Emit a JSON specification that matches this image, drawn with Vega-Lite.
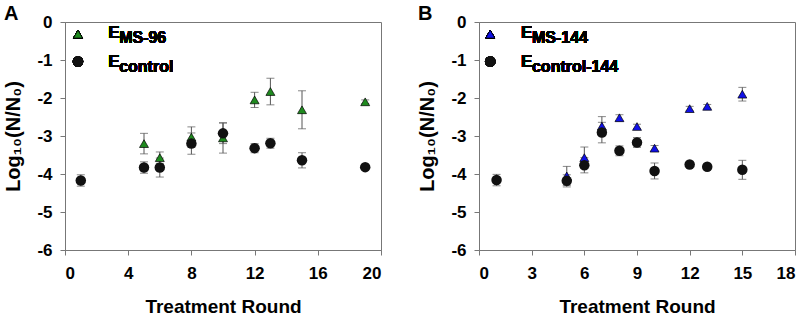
{
  "$schema": "https://vega.github.io/schema/vega-lite/v6.json",
  "background": "white",
  "padding": {"left": 3, "top": 3, "right": 0, "bottom": 0},
  "spacing": 35,
  "datasets": {
    "a": [
      {"round": 5, "series": "MS", "v": -3.2, "e": 0.27},
      {"round": 6, "series": "MS", "v": -3.57, "e": 0.15},
      {"round": 8, "series": "MS", "v": -3.03, "e": 0.27},
      {"round": 10, "series": "MS", "v": -3.05, "e": 0.4},
      {"round": 12, "series": "MS", "v": -2.05, "e": 0.2},
      {"round": 13, "series": "MS", "v": -1.83, "e": 0.35},
      {"round": 15, "series": "MS", "v": -2.31, "e": 0.5},
      {"round": 19, "series": "MS", "v": -2.1, "e": 0.05},
      {"round": 1, "series": "control", "v": -4.17, "e": 0.15},
      {"round": 5, "series": "control", "v": -3.83, "e": 0.15},
      {"round": 6, "series": "control", "v": -3.83, "e": 0.25},
      {"round": 8, "series": "control", "v": -3.2, "e": 0.28},
      {"round": 10, "series": "control", "v": -2.93, "e": 0.27},
      {"round": 12, "series": "control", "v": -3.32, "e": 0.12},
      {"round": 13, "series": "control", "v": -3.19, "e": 0.13},
      {"round": 15, "series": "control", "v": -3.64, "e": 0.2},
      {"round": 19, "series": "control", "v": -3.82, "e": 0.03}
    ],
    "b": [
      {"round": 5, "series": "MS", "v": -4.05, "e": 0.25},
      {"round": 6, "series": "MS", "v": -3.57, "e": 0.28},
      {"round": 7, "series": "MS", "v": -2.74, "e": 0.25},
      {"round": 8, "series": "MS", "v": -2.52, "e": 0.08},
      {"round": 9, "series": "MS", "v": -2.75, "e": 0.06},
      {"round": 10, "series": "MS", "v": -3.32, "e": 0.07},
      {"round": 12, "series": "MS", "v": -2.28, "e": 0.06},
      {"round": 13, "series": "MS", "v": -2.22, "e": 0.05},
      {"round": 15, "series": "MS", "v": -1.9, "e": 0.18},
      {"round": 1, "series": "control", "v": -4.16, "e": 0.15},
      {"round": 5, "series": "control", "v": -4.18, "e": 0.16},
      {"round": 6, "series": "control", "v": -3.77, "e": 0.2},
      {"round": 7, "series": "control", "v": -2.91, "e": 0.27},
      {"round": 8, "series": "control", "v": -3.39, "e": 0.13},
      {"round": 9, "series": "control", "v": -3.17, "e": 0.13},
      {"round": 10, "series": "control", "v": -3.92, "e": 0.21},
      {"round": 12, "series": "control", "v": -3.75, "e": 0.03},
      {"round": 13, "series": "control", "v": -3.81, "e": 0.03},
      {"round": 15, "series": "control", "v": -3.89, "e": 0.25}
    ]
  },
  "config": {
    "font": "Liberation Sans",
    "view": {"stroke": "#777", "strokeWidth": 1},
    "axis": {
      "grid": false,
      "domainColor": "#777",
      "tickColor": "#777",
      "tickSize": 5,
      "labelFontSize": 17,
      "labelFontWeight": "bold",
      "labelColor": "#000",
      "titleFontSize": 19,
      "titleFontWeight": "bold",
      "titleColor": "#000"
    },
    "title": {"fontSize": 20, "fontWeight": "bold", "color": "#000", "anchor": "start", "frame": "bounds"}
  },
  "hconcat": [
    {
      "title": {"text": "A", "offset": -11},
      "width": 316,
      "height": 228,
      "data": {"name": "a"},
      "encoding": {
        "x": {"field": "round", "type": "quantitative", "scale": {"domain": [0, 20], "nice": false},
              "axis": {"values": [0, 4, 8, 12, 16, 20], "title": "Treatment Round", "labelPadding": 10, "titlePadding": 16}},
        "y": {"field": "v", "type": "quantitative", "scale": {"domain": [-6, 0], "nice": false, "zero": false},
              "axis": {"values": [0, -1, -2, -3, -4, -5, -6], "labelExpr": "datum.value < 0 ? '-' + abs(datum.value) : '' + datum.value", "title": "Log₁₀(N/N₀)", "titleFontSize": 20, "labelPadding": 8, "titlePadding": 13}}
      },
      "layer": [
        {
          "mark": {"type": "errorbar", "ticks": {"size": 8, "color": "#555"}, "color": "#555", "thickness": 1},
          "encoding": {"yError": {"field": "e"}}
        },
        {
          "transform": [{"filter": "datum.series === 'MS'"}],
          "mark": {"type": "point", "shape": "triangle-up", "filled": true, "fill": "#1f8a1f", "stroke": "#000", "strokeWidth": 0.7, "size": 80, "opacity": 1}
        },
        {
          "transform": [{"filter": "datum.series === 'control'"}],
          "mark": {"type": "circle", "color": "#111", "size": 110, "opacity": 1}
        },
        {
          "mark": {"type": "point", "shape": "triangle-up", "filled": true, "fill": "#1f8a1f", "stroke": "#000", "strokeWidth": 0.7, "size": 80, "opacity": 1},
          "encoding": {"x": {"datum": 0.82}, "y": {"datum": -0.32}}
        },
        {
          "mark": {"type": "circle", "color": "#111", "size": 110, "opacity": 1},
          "encoding": {"x": {"datum": 0.82}, "y": {"datum": -1.04}}
        },
        {
          "mark": {"type": "text", "text": "E", "fontSize": 17, "fontWeight": "bold", "align": "left", "baseline": "middle", "color": "#000"},
          "encoding": {"x": {"datum": 2.73}, "y": {"datum": -0.3}}
        },
        {
          "mark": {"type": "text", "text": "MS-96", "fontSize": 16, "fontWeight": "bold", "align": "left", "baseline": "middle", "dx": 11, "dy": 5, "color": "#000"},
          "encoding": {"x": {"datum": 2.73}, "y": {"datum": -0.3}}
        },
        {
          "mark": {"type": "text", "text": "E", "fontSize": 17, "fontWeight": "bold", "align": "left", "baseline": "middle", "color": "#000"},
          "encoding": {"x": {"datum": 2.73}, "y": {"datum": -1.05}}
        },
        {
          "mark": {"type": "text", "text": "control", "fontSize": 16, "fontWeight": "bold", "align": "left", "baseline": "middle", "dx": 11, "dy": 5, "color": "#000"},
          "encoding": {"x": {"datum": 2.73}, "y": {"datum": -1.05}}
        }
      ]
    },
    {
      "title": {"text": "B", "offset": -11},
      "width": 316,
      "height": 228,
      "data": {"name": "b"},
      "encoding": {
        "x": {"field": "round", "type": "quantitative", "scale": {"domain": [0, 18], "nice": false},
              "axis": {"values": [0, 3, 6, 9, 12, 15, 18], "title": "Treatment Round", "labelPadding": 10, "titlePadding": 16}},
        "y": {"field": "v", "type": "quantitative", "scale": {"domain": [-6, 0], "nice": false, "zero": false},
              "axis": {"values": [0, -1, -2, -3, -4, -5, -6], "labelExpr": "datum.value < 0 ? '-' + abs(datum.value) : '' + datum.value", "title": "Log₁₀(N/N₀)", "titleFontSize": 20, "labelPadding": 8, "titlePadding": 13}}
      },
      "layer": [
        {
          "mark": {"type": "errorbar", "ticks": {"size": 8, "color": "#555"}, "color": "#555", "thickness": 1},
          "encoding": {"yError": {"field": "e"}}
        },
        {
          "transform": [{"filter": "datum.series === 'MS'"}],
          "mark": {"type": "point", "shape": "triangle-up", "filled": true, "fill": "#1010e8", "stroke": "#000", "strokeWidth": 0.7, "size": 80, "opacity": 1}
        },
        {
          "transform": [{"filter": "datum.series === 'control'"}],
          "mark": {"type": "circle", "color": "#111", "size": 110, "opacity": 1}
        },
        {
          "mark": {"type": "point", "shape": "triangle-up", "filled": true, "fill": "#1010e8", "stroke": "#000", "strokeWidth": 0.7, "size": 80, "opacity": 1},
          "encoding": {"x": {"datum": 0.64}, "y": {"datum": -0.32}}
        },
        {
          "mark": {"type": "circle", "color": "#111", "size": 110, "opacity": 1},
          "encoding": {"x": {"datum": 0.64}, "y": {"datum": -1.04}}
        },
        {
          "mark": {"type": "text", "text": "E", "fontSize": 17, "fontWeight": "bold", "align": "left", "baseline": "middle", "color": "#000"},
          "encoding": {"x": {"datum": 2.39}, "y": {"datum": -0.3}}
        },
        {
          "mark": {"type": "text", "text": "MS-144", "fontSize": 16, "fontWeight": "bold", "align": "left", "baseline": "middle", "dx": 11, "dy": 5, "color": "#000"},
          "encoding": {"x": {"datum": 2.39}, "y": {"datum": -0.3}}
        },
        {
          "mark": {"type": "text", "text": "E", "fontSize": 17, "fontWeight": "bold", "align": "left", "baseline": "middle", "color": "#000"},
          "encoding": {"x": {"datum": 2.39}, "y": {"datum": -1.05}}
        },
        {
          "mark": {"type": "text", "text": "control-144", "fontSize": 16, "fontWeight": "bold", "align": "left", "baseline": "middle", "dx": 11, "dy": 5, "color": "#000"},
          "encoding": {"x": {"datum": 2.39}, "y": {"datum": -1.05}}
        }
      ]
    }
  ]
}
